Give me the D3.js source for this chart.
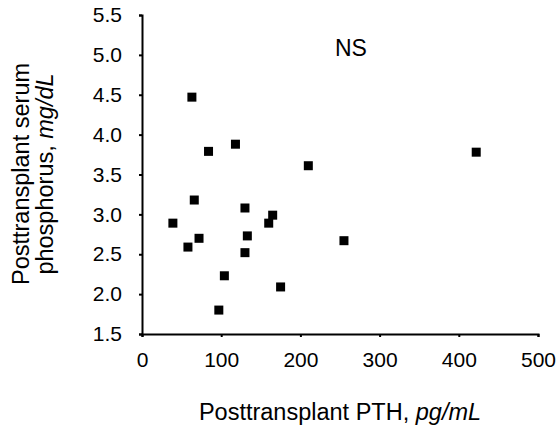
<!DOCTYPE html>
<html>
<head>
<meta charset="utf-8">
<script src="https://cdn.jsdelivr.net/npm/d3@7"></script>
<style>
  body { margin: 0; background: #fff; }
  text { font-family: "Liberation Sans", Arial, sans-serif; }
</style>
</head>
<body>
<script>
// posttransplant PTH (pg/mL) vs serum phosphorus (mg/dL)
var pth = [63, 84, 118, 39, 66, 58, 72, 104, 97, 130, 133, 130, 160, 165, 175, 422, 210, 255];
var phos = [4.47, 3.79, 3.88, 2.89, 3.18, 2.59, 2.70, 2.23, 1.80, 3.08, 2.73, 2.52, 2.89, 2.99, 2.09, 3.78, 3.61, 2.67];
var xTicks = [0, 100, 200, 300, 400, 500];
var yTicks = [1.5, 2.0, 2.5, 3.0, 3.5, 4.0, 4.5, 5.0, 5.5];

var points = pth.map(function(d, i) { return [d, phos[i]]; });

var width = 558, height = 428;
var margin = {top: 15, right: 20, bottom: 94, left: 142};

var svg = d3.select("body").append("svg")
    .attr("width", width)
    .attr("height", height);

var xScale = d3.scaleLinear().domain([0, 500]).range([margin.left, 538]);
var yScale = d3.scaleLinear().domain([1.5, 5.5]).range([334, margin.top]);

var xAxis = d3.axisBottom(xScale).tickValues(xTicks).tickSize(3).tickPadding(15)
    .tickFormat(d3.format("d"));
var yAxis = d3.axisLeft(yScale).tickValues(yTicks).tickSize(3).tickPadding(17)
    .tickFormat(d3.format(".1f"));

var xAxisGroup = svg.append("g")
    .attr("transform", "translate(0," + 334 + ")")
    .call(xAxis);
var yAxisGroup = svg.append("g")
    .attr("transform", "translate(" + margin.left + ",0)")
    .call(yAxis);

[xAxisGroup, yAxisGroup].forEach(function(g) {
  g.select(".domain").attr("stroke", "#000").attr("stroke-width", 2);
  g.selectAll(".tick line").attr("stroke", "#000").attr("stroke-width", 2);
  g.selectAll(".tick text").attr("fill", "#000")
    .style("font-size", "21px")
    .style("font-family", "'Liberation Sans', Arial, sans-serif");
});

var size = 9;
svg.selectAll("rect.pt")
  .data(points)
  .enter()
  .append("rect")
  .attr("class", "pt")
  .attr("x", function(d) { return xScale(d[0]) - size / 2; })
  .attr("y", function(d) { return yScale(d[1]) - size / 2; })
  .attr("width", size)
  .attr("height", size)
  .attr("fill", "#000");

svg.append("text")
  .attr("x", 335)
  .attr("y", 56)
  .style("font-size", "23px")
  .text("NS");

// x axis title
var xt = svg.append("text")
  .attr("x", 340)
  .attr("y", 420)
  .attr("text-anchor", "middle")
  .style("font-size", "23.5px");
xt.append("tspan").text("Posttransplant PTH, ");
xt.append("tspan").style("font-style", "italic").text("pg/mL");

// y axis title (two lines)
var yt = svg.append("g")
  .attr("transform", "translate(29,174) rotate(-90)");
yt.append("text")
  .attr("text-anchor", "middle")
  .style("font-size", "23.5px")
  .text("Posttransplant serum");
var yt2 = yt.append("text")
  .attr("y", 24)
  .attr("text-anchor", "middle")
  .style("font-size", "23.5px");
yt2.append("tspan").text("phosphorus, ");
yt2.append("tspan").style("font-style", "italic").text("mg/dL");
</script>
</body>
</html>
